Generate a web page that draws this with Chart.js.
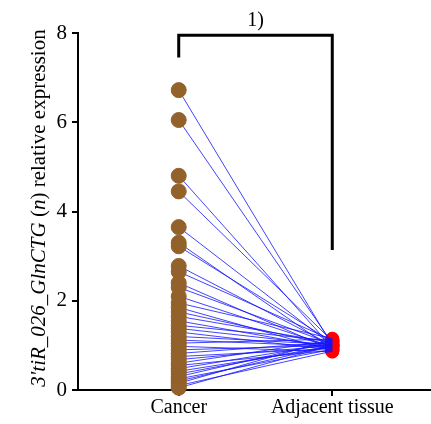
<!DOCTYPE html>
<html>
<head>
<meta charset="utf-8">
<script src="https://cdn.jsdelivr.net/npm/chart.js@4"></script>
<style>
  html, body { margin: 0; padding: 0; background: #fff; }
</style>
</head>
<body>
<canvas id="chart" width="431" height="424"></canvas>
<script>
const groups = ["Cancer", "Adjacent tissue"];
const cancer = [6.72, 6.05, 4.8, 4.45, 3.65, 3.3, 3.22, 2.78, 2.65, 2.4, 2.3, 2.1,
  1.95, 1.85, 1.75, 1.65, 1.55, 1.45, 1.38, 1.3, 1.2, 1.12, 1.05, 0.98, 0.9,
  0.82, 0.75, 0.68, 0.6, 0.55, 0.48, 0.42, 0.36, 0.3, 0.25, 0.2, 0.15, 0.1, 0.05];
const adjacent = [1.0, 1.05, 0.95, 1.1, 1.0, 0.92, 1.08, 1.0, 1.12, 0.9, 1.03, 0.97,
  1.15, 0.88, 1.0, 1.06, 0.94, 1.1, 1.0, 0.9, 1.02, 0.98, 1.14, 0.86, 1.0,
  1.07, 0.93, 1.0, 1.11, 0.89, 1.04, 0.96, 1.0, 1.09, 0.91, 1.0, 1.13, 0.87, 1.0];
const yTicks = [0, 2, 4, 6, 8];
const sigLabel = "1)";
// bracket heights (data units): top, left foot, right foot
const bracket = [7.95, 7.45, 3.14];

const serif = "'Liberation Serif', 'Times New Roman', serif";

const lineSets = cancer.map((c, i) => ({
  data: [{ x: 0, y: c }, { x: 1, y: adjacent[i] }],
  showLine: true,
  borderColor: "rgba(20,20,255,0.8)",
  borderWidth: 1,
  pointRadius: 0,
  order: 1,
  clip: false,
}));

const annotate = {
  id: "annotate",
  afterDraw(chart) {
    const { ctx, scales: { x, y } } = chart;
    // bracket
    const x0 = x.getPixelForValue(0), x1 = x.getPixelForValue(1);
    ctx.save();
    ctx.strokeStyle = "#000";
    ctx.lineWidth = 3;
    ctx.beginPath();
    ctx.moveTo(x0, y.getPixelForValue(bracket[1]));
    ctx.lineTo(x0, y.getPixelForValue(bracket[0]));
    ctx.lineTo(x1, y.getPixelForValue(bracket[0]));
    ctx.lineTo(x1, y.getPixelForValue(bracket[2]));
    ctx.stroke();
    ctx.fillStyle = "#000";
    ctx.font = "20px " + serif;
    ctx.textAlign = "center";
    ctx.textBaseline = "alphabetic";
    ctx.fillText(sigLabel, (x0 + x1) / 2, y.getPixelForValue(bracket[0]) - 9);

    // y title with mixed styles
    const parts = [
      ["3'tiR_026_GlnCTG", "italic"],
      [" (", "normal"],
      ["n", "italic"],
      [") relative expression", "normal"],
    ];
    const size = 21;
    let total = 0;
    parts.forEach(p => {
      ctx.font = p[1] + " " + size + "px " + serif;
      total += ctx.measureText(p[0]).width;
    });
    ctx.translate(39, 208);
    ctx.rotate(-Math.PI / 2);
    ctx.textAlign = "left";
    ctx.textBaseline = "middle";
    let pos = -total / 2;
    parts.forEach(p => {
      ctx.font = p[1] + " " + size + "px " + serif;
      ctx.fillText(p[0], pos, 0);
      pos += ctx.measureText(p[0]).width;
    });
    ctx.restore();
  },
};

new Chart(document.getElementById("chart"), {
  type: "scatter",
  data: {
    datasets: [
      {
        data: cancer.map(v => ({ x: 0, y: v })),
        backgroundColor: "#93612a",
        borderColor: "#93612a",
        pointRadius: 7.5,
        order: 0,
        clip: false,
      },
      ...lineSets,
      {
        data: adjacent.map(v => ({ x: 1, y: v })),
        backgroundColor: "#ff0000",
        borderColor: "#ff0000",
        pointRadius: 6.5,
        order: 2,
        clip: false,
      },
    ],
  },
  options: {
    responsive: false,
    animation: false,
    layout: { autoPadding: false, padding: { top: 33, right: 0, left: 0, bottom: 0 } },
    plugins: { legend: { display: false }, tooltip: { enabled: false } },
    scales: {
      x: {
        type: "linear",
        min: -0.656,
        max: 1.643,
        afterBuildTicks: s => { s.ticks = [{ value: 0 }, { value: 1 }]; },
        afterFit: s => { s.height = 34; s.paddingLeft = 0; s.paddingRight = 0; },
        grid: { drawOnChartArea: false, color: "#000", lineWidth: 2, tickLength: 6 },
        border: { color: "#000", width: 2 },
        ticks: {
          color: "#000",
          font: { family: serif, size: 20 },
          padding: 0,
          maxRotation: 0,
          callback: v => groups[v],
        },
      },
      y: {
        min: 0,
        max: 8,
        afterBuildTicks: s => { s.ticks = yTicks.map(v => ({ value: v })); },
        afterFit: s => { s.width = 78; },
        grid: { drawOnChartArea: false, color: "#000", lineWidth: 2, tickLength: 6 },
        border: { color: "#000", width: 2 },
        ticks: {
          color: "#000",
          font: { family: serif, size: 21 },
          padding: 5,
        },
      },
    },
  },
  plugins: [annotate],
});
</script>
</body>
</html>
